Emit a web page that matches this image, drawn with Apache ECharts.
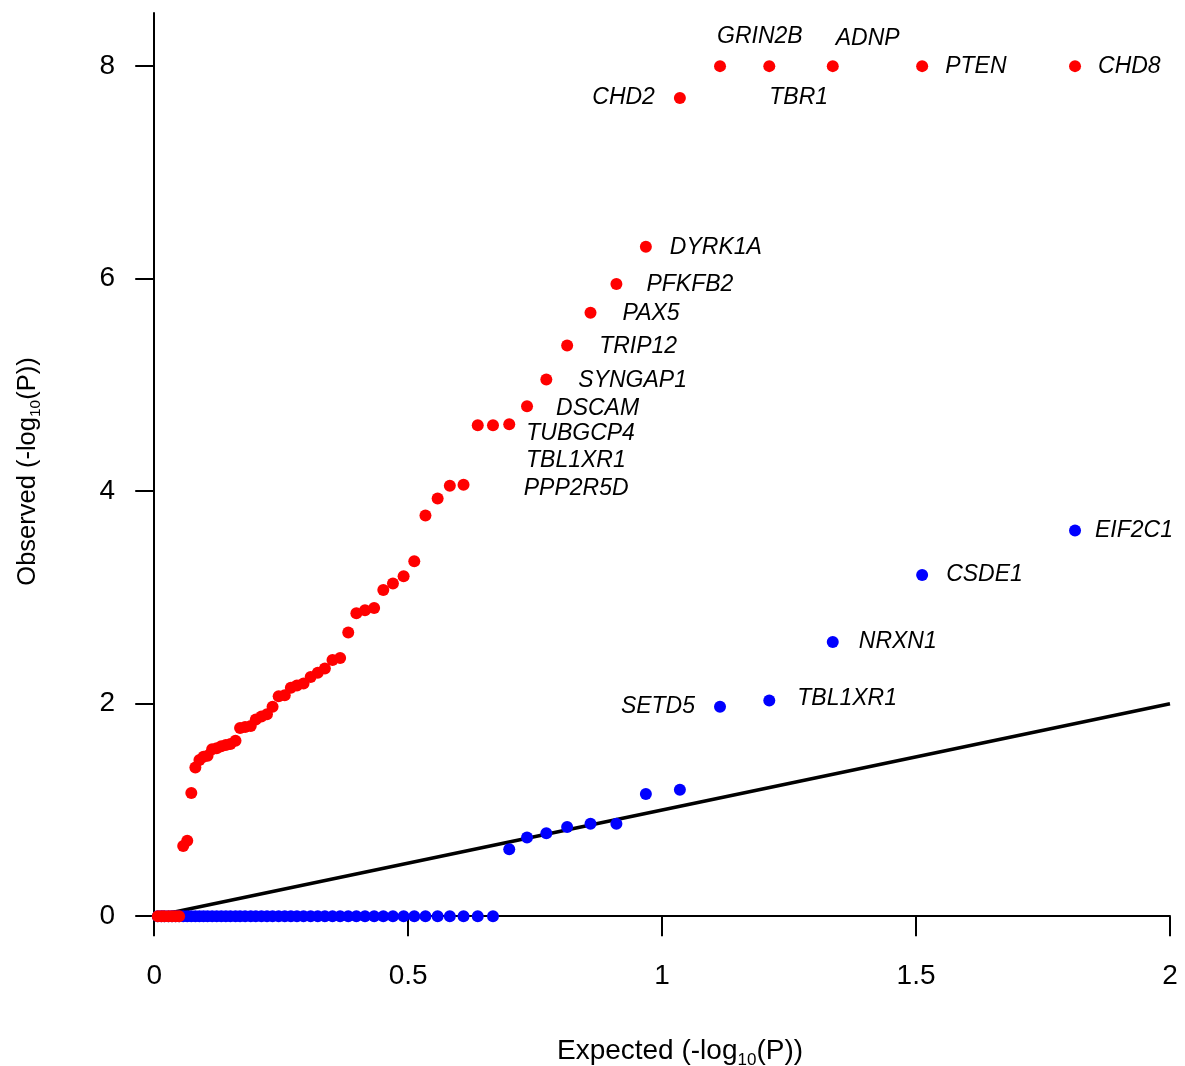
<!DOCTYPE html>
<html>
<head>
<meta charset="utf-8">
<script src="https://cdn.jsdelivr.net/npm/echarts@6/dist/echarts.min.js"></script>
<style>
html,body{margin:0;padding:0;background:#fff;}
#chart{width:1185px;height:1066px;}
</style>
</head>
<body>
<div id="chart"></div>
<script>
// Expected -log10(P) positions (shared by both series)
const expected = [1.813, 1.512, 1.336, 1.211, 1.114, 1.035, 0.968, 0.910, 0.859, 0.813,
  0.772, 0.734, 0.699, 0.667, 0.637, 0.609, 0.582, 0.558, 0.534, 0.512,
  0.491, 0.470, 0.451, 0.433, 0.415, 0.398, 0.382, 0.366, 0.351, 0.336,
  0.322, 0.308, 0.294, 0.281, 0.269, 0.257, 0.245, 0.233, 0.222, 0.211,
  0.200, 0.190, 0.179, 0.169, 0.160, 0.150, 0.141, 0.132, 0.123, 0.114,
  0.105, 0.097, 0.089, 0.081, 0.073, 0.065, 0.057, 0.049, 0.042, 0.035,
  0.028, 0.020, 0.014, 0.007];

// Observed -log10(P), red series
const redObserved = [8, 8, 8, 8, 8, 7.70, 6.30, 5.95, 5.68, 5.37,
  5.05, 4.80, 4.63, 4.62, 4.62, 4.06, 4.05, 3.93, 3.77, 3.34,
  3.20, 3.13, 3.07, 2.90, 2.88, 2.85, 2.67, 2.43, 2.41, 2.33,
  2.29, 2.25, 2.19, 2.17, 2.15, 2.08, 2.07, 1.97, 1.90, 1.88,
  1.85, 1.79, 1.78, 1.77, 1.65, 1.62, 1.61, 1.60, 1.58, 1.57,
  1.51, 1.50, 1.47, 1.40, 1.16, 0.71, 0.66, 0, 0, 0,
  0, 0, 0, 0];

// Observed -log10(P), blue series
const blueObserved = [3.63, 3.21, 2.58, 2.03, 1.97, 1.19, 1.15, 0.87, 0.87, 0.84,
  0.78, 0.74, 0.63, 0, 0, 0, 0, 0, 0, 0,
  0, 0, 0, 0, 0, 0, 0, 0, 0, 0,
  0, 0, 0, 0, 0, 0, 0, 0, 0, 0,
  0, 0, 0, 0, 0, 0, 0, 0, 0, 0,
  0, 0, 0, 0, 0, 0, 0, 0, 0, 0,
  0, 0, 0, 0];

// Gene names of the top-ranked points
const redGenes = ['CHD8', 'PTEN', 'ADNP', 'TBR1', 'GRIN2B', 'CHD2', 'DYRK1A', 'PFKFB2',
  'PAX5', 'TRIP12', 'SYNGAP1', 'DSCAM', 'TUBGCP4', 'TBL1XR1', 'PPP2R5D'];
const blueGenes = ['EIF2C1', 'CSDE1', 'NRXN1', 'TBL1XR1', 'SETD5'];

// Reference line (y = x)
const refLine = [[0, 0], [2, 2]];

// Tick values
const xTicks = [0, 0.5, 1, 1.5, 2];
const yTicks = [0, 2, 4, 6, 8];

// Label placement (layout only)
const redLabelLayout = [
  ['right', [17, 0]], ['right', [17, 0]], ['right', [-3, -28]], ['right', [-6, 31]],
  ['right', [-9, -30]], ['left', [-19, 0]], ['right', [18, 1]], ['right', [24, 1]],
  ['right', [26, 1]], ['right', [26, 1]], ['right', [26, 1]], ['right', [23, 2]],
  ['right', [11, 9]], ['right', [27, 35]], ['right', [40, 63]]
];
const blueLabelLayout = [
  ['right', [14, 0]], ['right', [18, 0]], ['right', [20, 0]], ['right', [22, -2]], ['left', [-19, 0]]
];

const FONT = '"Liberation Sans", Arial, Helvetica, sans-serif';

function buildData(obs, genes, layout) {
  return obs.map((y, i) => {
    const item = { value: [expected[i], y] };
    if (i < genes.length) {
      item.label = {
        show: true,
        formatter: genes[i],
        position: layout[i][0],
        offset: layout[i][1],
        distance: 0
      };
    }
    return item;
  });
}

const labelStyle = {
  show: false,
  color: '#000',
  fontSize: 23,
  fontStyle: 'italic',
  fontFamily: FONT
};

const nameRichX = {
  n: { fontSize: 28, fontFamily: FONT, color: '#000', lineHeight: 36 },
  s: { fontSize: 17, fontFamily: FONT, color: '#000', lineHeight: 17, verticalAlign: 'bottom' }
};
const nameRichY = {
  n: { fontSize: 25.5, fontFamily: FONT, color: '#000', lineHeight: 33 },
  s: { fontSize: 15.5, fontFamily: FONT, color: '#000', lineHeight: 15.5, verticalAlign: 'bottom' }
};

const chart = echarts.init(document.getElementById('chart'), null, { renderer: 'canvas' });
chart.setOption({
  animation: false,
  backgroundColor: '#fff',
  grid: { left: 139, right: 15, top: 13, bottom: 136, containLabel: false, outerBoundsMode: 'none' },
  xAxis: {
    type: 'value',
    min: -0.03,
    max: 2,
    splitLine: { show: false },
    axisLine: { show: true, onZero: true, lineStyle: { color: '#000', width: 2 } },
    axisTick: { show: true, customValues: xTicks, length: 20, lineStyle: { color: '#000', width: 2 } },
    axisLabel: { customValues: xTicks, margin: 32, color: '#000', fontSize: 28, fontFamily: FONT,
      formatter: v => String(v) },
    name: '{n|Expected (-log}{s|10}{n|(P))}',
    nameLocation: 'middle',
    nameGap: 103,
    nameMoveOverlap: false,
    nameTextStyle: { padding: [0, 0, 0, 51], rich: nameRichX }
  },
  yAxis: {
    type: 'value',
    min: -0.13,
    max: 8.5,
    splitLine: { show: false },
    axisLine: { show: true, onZero: true, lineStyle: { color: '#000', width: 2 } },
    axisTick: { show: true, customValues: yTicks, length: 19, lineStyle: { color: '#000', width: 2 } },
    axisLabel: { customValues: yTicks, margin: 24, color: '#000', fontSize: 28, fontFamily: FONT },
    name: '{n|Observed (-log}{s|10}{n|(P))}',
    nameLocation: 'middle',
    nameGap: 95,
    nameMoveOverlap: false,
    nameTextStyle: { rich: nameRichY }
  },
  series: [
    {
      type: 'line',
      data: refLine,
      symbol: 'none',
      lineStyle: { color: '#000', width: 3.5 },
      silent: true,
      z: 1
    },
    {
      type: 'scatter',
      data: buildData(blueObserved, blueGenes, blueLabelLayout),
      symbol: 'circle',
      symbolSize: 12,
      itemStyle: { color: '#0000ff', opacity: 1 },
      label: labelStyle,
      z: 2
    },
    {
      type: 'scatter',
      data: buildData(redObserved, redGenes, redLabelLayout),
      symbol: 'circle',
      symbolSize: 12,
      itemStyle: { color: '#ff0000', opacity: 1 },
      label: labelStyle,
      z: 3
    }
  ]
});
</script>
</body>
</html>
